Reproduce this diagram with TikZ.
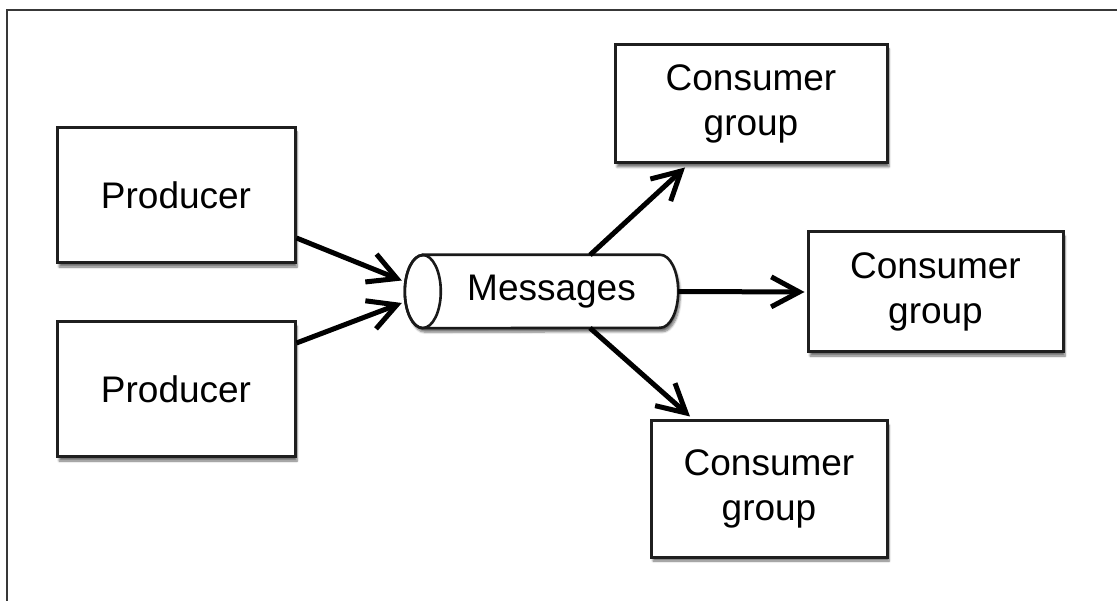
\documentclass[tikz,border=0pt]{standalone}
\usepackage{fontspec}
\setmainfont{Liberation Sans}
\usetikzlibrary{arrows.meta,calc,shadows.blur}
\begin{document}
\begin{tikzpicture}[x=1pt,y=-1pt,
  shade/.style={blur shadow={shadow xshift=2pt,shadow yshift=-4pt,shadow blur steps=6,shadow opacity=55}},
  box/.style={draw=black!88,line width=3pt,fill=white,rectangle,inner sep=0pt,align=center,
    font=\fontsize{37}{45}\selectfont,shade},
  pipetext/.style={inner sep=0pt,font=\fontsize{37}{45}\selectfont},
  pipeline/.style={draw=black!90,line width=2.6pt},
  flow/.style={line width=5pt,-{Straight Barb[length=28pt,width=30pt,line width=5pt]}},
  frame/.style={draw=black!78,line width=2.5pt}]
\useasboundingbox (0,0) rectangle (1117,601);
\coordinate (ftl) at (7,10);
\coordinate (ftr) at (1117,10);
\coordinate (fbl) at (7,601);
\draw[frame] (ftr) -- (ftl) -- (fbl);

\node[box,minimum width=238pt,minimum height=135pt] (p1) at (176,195.5) {Producer};
\node[box,minimum width=238pt,minimum height=135pt] (p2) at (176,389.5) {Producer};
\node[box,minimum width=272pt,minimum height=118pt] (c1) at (751,104) {Consumer\\group};
\node[box,minimum width=255pt,minimum height=120pt] (c2) at (935.5,292) {Consumer\\group};
\node[box,minimum width=236pt,minimum height=136pt] (c3) at (769,489) {Consumer\\group};

% cylinder "Messages"
\node[minimum width=273pt,minimum height=73pt,inner sep=0pt] (msg) at (541.5,291.5) {};
\path[pipeline,fill=white,shade]
  ($(msg.north west)+(18,0)$) -- ($(msg.north east)+(-18,0)$)
  arc[start angle=-90,end angle=90,x radius=18,y radius=36.5]
  -- ($(msg.south west)+(18,0)$)
  arc[start angle=90,end angle=270,x radius=18,y radius=36.5] -- cycle;
\draw[pipeline] ($(msg.west)+(18,0)$) ellipse[x radius=18,y radius=36.5];
\node[pipetext] (msgtext) at ($(msg.center)+(10,0)$) {Messages};

\draw[flow] ($(p1.east)+(0,42.5)$) -- ($(msg.west)+(-3,-11)$);
\draw[flow] ($(p2.east)+(0,-46.5)$) -- ($(msg.west)+(-3,11.5)$);
\draw[flow] ($(msg.center)+(48.5,-36.5)$) -- ($(c1.south)+(-66,3)$);
\draw[flow] (msg.east) -- ($(c2.west)+(-2,0)$);
\draw[flow] ($(msg.center)+(48.5,36.5)$) -- ($(c3.north)+(-79,-3)$);
\end{tikzpicture}
\end{document}
